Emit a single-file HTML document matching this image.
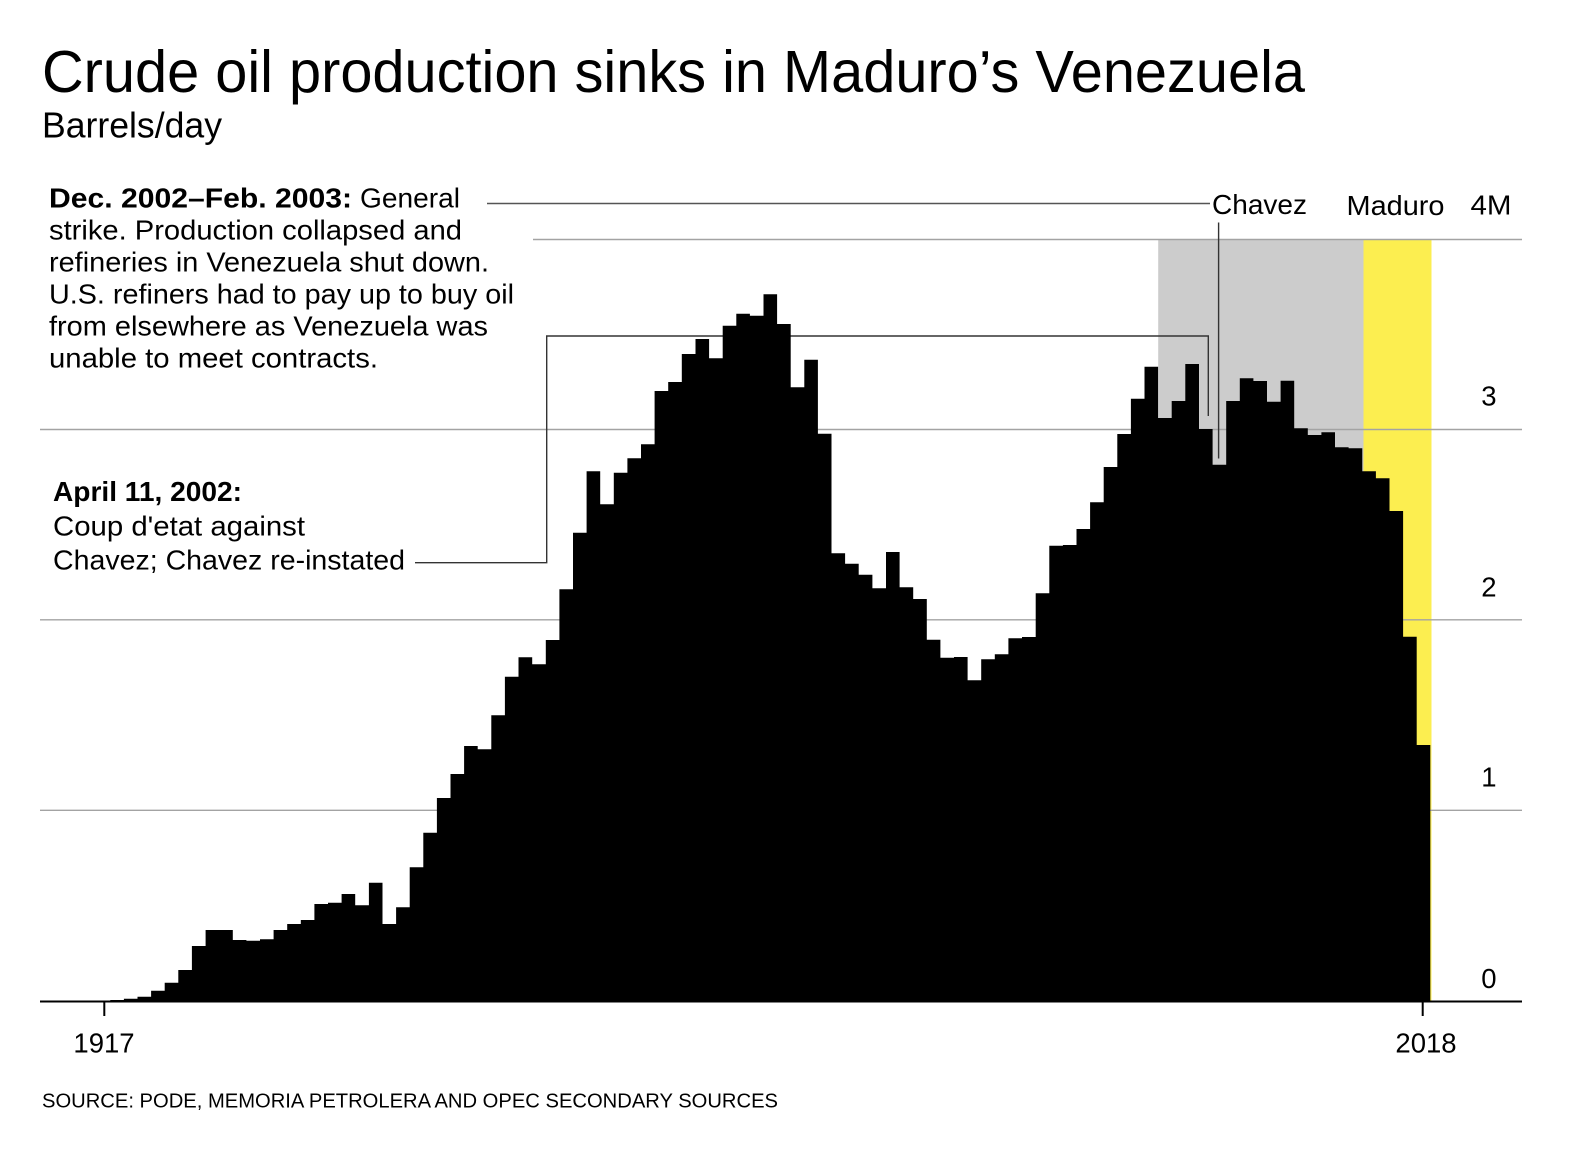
<!DOCTYPE html>
<html>
<head>
<meta charset="utf-8">
<style>
  html, body { margin:0; padding:0; background:#fff; }
  svg { display:block; }
  text { font-family: "Liberation Sans", Arial, sans-serif; fill:#000; }
</style>
</head>
<body>
<svg width="1570" height="1158" viewBox="0 0 1570 1158" xmlns="http://www.w3.org/2000/svg">
  <rect x="0" y="0" width="1570" height="1158" fill="#fff"/>

  <!-- Title -->
  <text x="42" y="92" font-size="59" textLength="1263" lengthAdjust="spacingAndGlyphs">Crude oil production sinks in Maduro’s Venezuela</text>
  <text x="42" y="137.5" font-size="36" textLength="180" lengthAdjust="spacingAndGlyphs">Barrels/day</text>

  <!-- Era bands -->
  <rect x="1158.2" y="239.5" width="205.3" height="762" fill="#cccccc"/>
  <rect x="1363.5" y="239.5" width="68" height="762" fill="#fcee50"/>

  <!-- Gridlines -->
  <g stroke="#a3a3a3" stroke-width="1.4">
    <line x1="533" y1="239.5" x2="1522" y2="239.5"/>
    <line x1="40" y1="429.5" x2="1522" y2="429.5"/>
    <line x1="40" y1="619.8" x2="1522" y2="619.8"/>
    <line x1="40" y1="810.3" x2="1522" y2="810.3"/>
  </g>

  <!-- April 2002 leader (behind bars) -->
  <polyline points="415,562.7 546.7,562.7 546.7,336 1208.3,336 1208.3,416" fill="none" stroke="#333" stroke-width="1.4"/>
  <!-- Dec 2002 leader -->
  <line x1="487" y1="203.5" x2="1210" y2="203.5" stroke="#555" stroke-width="1.4"/>
  <line x1="1218.6" y1="222.5" x2="1218.6" y2="458.5" stroke="#333" stroke-width="1.4"/>

  <!-- Bars (step area) -->
  <path fill="#000" d="M96.7,1001.5
V1000.5 H110.3 V1000 H123.9 V998.7 H137.5 V996.7 H151.1 V990.7 H164.7 V982.7 H178.3 V970 H191.9 V946 H205.6 V930 H219.2 V930 H232.8
V940 H246.4 V940.7 H260.0 V939.3 H273.6 V930 H287.2 V924 H300.8 V920 H314.4 V904 H328.0 V902.7 H341.6 V894 H355.2 V905.3 H368.9
V882.7 H382.5 V924 H396.1 V907.3 H409.7 V867.3 H423.3 V832.7 H436.9 V798 H450.5 V774 H464.1 V746 H477.7 V749.3 H491.3
V715.3 H504.9 V676.7 H518.5 V657.3 H532.2 V664.3 H545.8 V640 H559.4 V589.3 H573.0 V532.7 H586.6 V471.3 H600.2 V504.3 H613.8
V472.7 H627.4 V458.3 H641.0 V444.3 H654.6 V391 H668.2 V382 H681.8 V354 H695.5 V339 H709.1 V358.3 H722.7 V325.7 H736.3
V313.7 H749.9 V315.7 H763.5 V294.3 H777.1 V324 H790.7 V387.3 H804.3 V359.7 H817.9 V433.7 H831.5 V553.3 H845.1 V563.7 H858.7
V574.7 H872.4 V588.3 H886.0 V552 H899.6 V587.3 H913.2 V599 H926.8 V639.7 H940.4 V657.7 H954.0 V657 H967.6 V680.3 H981.2
V659.3 H994.8 V654.3 H1008.4 V638.3 H1022.0 V637 H1035.7 V593.3 H1049.3 V545.7 H1062.9 V545 H1076.5 V529 H1090.1 V502.3 H1103.7
V467 H1117.3 V434 H1130.9 V398.7 H1144.5 V366.7 H1158.1 V418 H1171.7 V401 H1185.3 V364 H1199.0 V429 H1212.6 V464.7 H1226.2
V401 H1239.8 V378.3 H1253.4 V381 H1267.0 V401.7 H1280.6 V380.7 H1294.2 V428.3 H1307.8 V435 H1321.4 V432.3 H1335.0 V447.3 H1348.6
V448.3 H1362.3 V471.3 H1375.9 V478.3 H1389.5 V511 H1403.1 V636.7 H1416.7 V745 H1430.3
V1001.5 Z"/>

  <!-- Axis line -->
  <line x1="40" y1="1001.5" x2="1522" y2="1001.5" stroke="#000" stroke-width="2"/>
  <!-- Ticks -->
  <line x1="104.3" y1="1002" x2="104.3" y2="1016" stroke="#000" stroke-width="2"/>
  <line x1="1422.7" y1="1002" x2="1422.7" y2="1016" stroke="#000" stroke-width="2"/>

  <!-- Era labels -->
  <text x="1212" y="214" font-size="27.5" textLength="95" lengthAdjust="spacingAndGlyphs">Chavez</text>
  <text x="1346.5" y="215" font-size="27.5" textLength="98" lengthAdjust="spacingAndGlyphs">Maduro</text>

  <!-- Y axis labels -->
  <text x="1511.5" y="214.3" font-size="27.5" text-anchor="end" textLength="41" lengthAdjust="spacingAndGlyphs">4M</text>
  <text x="1496.5" y="405.7" font-size="27.5" text-anchor="end">3</text>
  <text x="1496.5" y="596.7" font-size="27.5" text-anchor="end">2</text>
  <text x="1496.5" y="786.3" font-size="27.5" text-anchor="end">1</text>
  <text x="1496.5" y="988" font-size="27.5" text-anchor="end">0</text>

  <!-- X axis labels -->
  <text x="104" y="1052.5" font-size="27.5" text-anchor="middle">1917</text>
  <text x="1426" y="1052.7" font-size="27.5" text-anchor="middle">2018</text>

  <!-- Dec 2002 annotation -->
  <text x="49" y="207.3" font-size="27.5" font-weight="bold" textLength="303" lengthAdjust="spacingAndGlyphs">Dec. 2002–Feb. 2003:</text>
  <text x="360" y="207.3" font-size="27.5" textLength="100" lengthAdjust="spacingAndGlyphs">General</text>
  <text x="49" y="239.3" font-size="27.5" textLength="413" lengthAdjust="spacingAndGlyphs">strike. Production collapsed and</text>
  <text x="49" y="271.4" font-size="27.5" textLength="440" lengthAdjust="spacingAndGlyphs">refineries in Venezuela shut down.</text>
  <text x="49" y="303.4" font-size="27.5" textLength="465" lengthAdjust="spacingAndGlyphs">U.S. refiners had to pay up to buy oil</text>
  <text x="49" y="335.5" font-size="27.5" textLength="439" lengthAdjust="spacingAndGlyphs">from elsewhere as Venezuela was</text>
  <text x="49" y="367.5" font-size="27.5" textLength="329" lengthAdjust="spacingAndGlyphs">unable to meet contracts.</text>

  <!-- April 2002 annotation -->
  <text x="53" y="500.8" font-size="27.5" font-weight="bold" textLength="189" lengthAdjust="spacingAndGlyphs">April 11, 2002:</text>
  <text x="53" y="535.5" font-size="27.5" textLength="252" lengthAdjust="spacingAndGlyphs">Coup d'etat against</text>
  <text x="53" y="569.5" font-size="27.5" textLength="352" lengthAdjust="spacingAndGlyphs">Chavez; Chavez re-instated</text>

  <!-- Source -->
  <text x="42" y="1107.5" font-size="20" textLength="736" lengthAdjust="spacingAndGlyphs">SOURCE: PODE, MEMORIA PETROLERA AND OPEC SECONDARY SOURCES</text>
</svg>
</body>
</html>
